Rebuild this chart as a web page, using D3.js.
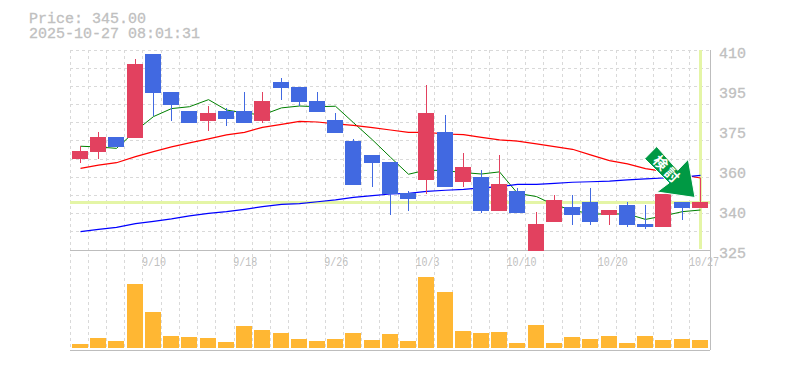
<!DOCTYPE html>
<html>
<head>
<meta charset="utf-8">
<script src="https://cdn.jsdelivr.net/npm/d3@7"></script>
<style>
  html, body { margin: 0; padding: 0; background: #fff; }
  svg { display: block; }
  text { font-family: "Liberation Mono", monospace; fill: #c0c0c0; }
</style>
</head>
<body>
<div id="chart"></div>
<script>
const priceLabel = "Price: 345.00";
const timeLabel = "2025-10-27 08:01:31";
const currentPrice = 345;
const arrowText = "検討";

const opens = [363.7, 366.6, 373.0, 372.6, 408.3, 392.2, 384.1, 379.8, 384.1, 384.1, 379.8, 396.4, 394.3, 388.3, 380.3, 371.3, 365.4, 362.4, 349.2, 354.8, 375.2, 353.9, 356.0, 341.6, 350.1, 324.6, 336.9, 343.3, 345.4, 339.9, 344.1, 336.1, 334.8, 345.4, 342.9];
const highs = [369.1, 375.2, 373.0, 406.2, 408.3, 392.2, 384.1, 386.2, 385.4, 392.2, 392.2, 398.1, 394.3, 392.2, 383.2, 372.2, 365.4, 362.4, 350.1, 395.1, 382.4, 366.2, 359.0, 365.4, 351.4, 341.2, 348.4, 348.4, 351.4, 342.0, 345.4, 344.1, 348.8, 345.4, 355.6];
const lows = [362.0, 363.7, 368.8, 372.6, 382.0, 379.8, 379.0, 375.6, 377.7, 379.0, 379.0, 388.8, 386.2, 383.7, 374.7, 352.6, 351.8, 339.9, 341.6, 348.8, 351.8, 351.8, 340.7, 341.6, 340.7, 324.6, 336.9, 335.6, 335.6, 335.6, 334.8, 333.9, 334.8, 337.8, 342.9];
const closes = [367.1, 373.0, 368.8, 404.0, 391.7, 386.6, 379.0, 383.2, 380.7, 379.0, 388.3, 393.9, 387.9, 383.7, 374.7, 352.6, 362.0, 348.8, 346.7, 383.2, 351.8, 360.3, 341.6, 353.1, 340.7, 336.1, 346.3, 339.9, 336.9, 342.0, 335.6, 334.8, 348.8, 342.9, 345.4];

const maShort = [369.1, 368.8, 368.2, 375.6, 381.7, 385.1, 385.9, 388.9, 384.5, 383.2, 382.4, 385.4, 386.2, 385.9, 386.1, 379.1, 371.8, 364.4, 357.2, 359.0, 358.7, 357.9, 357.3, 358.2, 349.1, 347.7, 344.1, 342.0, 340.3, 340.3, 340.3, 338.0, 339.5, 341.3, 342.0];
const maMid = [359.7, 361.1, 362.1, 364.7, 366.8, 368.8, 370.5, 372.2, 373.9, 375.0, 377.1, 378.4, 379.7, 379.4, 378.6, 378.0, 377.0, 376.0, 375.0, 375.0, 374.3, 374.0, 372.9, 371.8, 371.3, 370.1, 368.9, 367.8, 365.4, 363.0, 361.6, 359.6, 358.4, 356.9, 355.6];
const maLong = [332.8, 333.8, 334.6, 336.2, 337.2, 338.2, 339.5, 340.6, 341.3, 342.3, 343.4, 344.4, 344.7, 345.5, 346.3, 347.4, 348.1, 348.8, 349.1, 349.9, 350.4, 350.8, 351.4, 351.9, 352.9, 352.9, 353.3, 353.8, 354.0, 354.3, 354.8, 355.2, 355.6, 356.0, 356.7];

const volumes = [400, 1000, 700, 6400, 3600, 1200, 1100, 1000, 600, 2200, 1800, 1500, 900, 700, 900, 1500, 800, 1400, 700, 7100, 5600, 1700, 1500, 1600, 500, 2300, 500, 1100, 900, 1200, 500, 1200, 800, 900, 800];

const priceTicks = [410, 393, 376, 359, 342, 325];
const priceTickLabels = ["410", "395", "375", "360", "340", "325"];
const dateTicks = [4, 9, 14, 19, 24, 29, 34];
const dateTickLabels = ["9/10", "9/18", "9/26", "10/3", "10/10", "10/20", "10/27"];

const width = 785, height = 370;
const plotLeft = 70, plotRight = 710, plotTop = 50, plotMid = 250, plotBottom = 350;
const candleWidth = 16;

const svg = d3.select("#chart").append("svg")
  .attr("width", width)
  .attr("height", height);

const x = d3.scaleBand().domain(d3.range(opens.length)).range([71, 709]);
const y = d3.scaleLinear().domain([410, 325]).range([plotTop, plotMid]);
const yVol = d3.scaleLinear().domain([0, 10000]).range([348, 248]);

const barX = (i) => Math.round(x(i) + 1);
const midX = (i) => barX(i) + candleWidth / 2 + 0.5;

svg.append("defs").append("clipPath").attr("id", "plot")
  .append("rect")
  .attr("x", plotLeft).attr("y", plotTop)
  .attr("width", plotRight - plotLeft).attr("height", plotMid - plotTop + 1);

// dashed grid
const grid = svg.append("g")
  .attr("stroke", "#d9d9d9")
  .attr("stroke-dasharray", "3,3")
  .attr("shape-rendering", "crispEdges");

grid.selectAll("line.h")
  .data(d3.range(11))
  .join("line")
  .attr("class", "h")
  .attr("x1", plotLeft).attr("x2", plotRight)
  .attr("y1", (k) => Math.floor(plotTop + (k * (plotMid - plotTop)) / 11) + 0.5)
  .attr("y2", (k) => Math.floor(plotTop + (k * (plotMid - plotTop)) / 11) + 0.5);

grid.selectAll("line.v")
  .data(d3.range(opens.length))
  .join("line")
  .attr("class", "v")
  .attr("x1", (i) => Math.floor(x(i) - 1) + 0.5)
  .attr("x2", (i) => Math.floor(x(i) - 1) + 0.5)
  .attr("y1", plotTop).attr("y2", plotBottom);

// current price and latest bar markers
svg.append("line")
  .attr("x1", plotLeft).attr("x2", plotRight)
  .attr("y1", y(currentPrice)).attr("y2", y(currentPrice))
  .attr("stroke", "#e4f5a6").attr("stroke-width", 3)
  .attr("shape-rendering", "crispEdges");
svg.append("line")
  .attr("x1", midX(opens.length - 1)).attr("x2", midX(opens.length - 1))
  .attr("y1", plotTop).attr("y2", plotMid - 1)
  .attr("stroke", "#e4f5a6").attr("stroke-width", 3)
  .attr("shape-rendering", "crispEdges");

// frame
const frame = svg.append("g").attr("stroke", "#bdbdbd").attr("shape-rendering", "crispEdges");
frame.append("line").attr("x1", plotLeft).attr("x2", plotRight).attr("y1", plotMid + 0.5).attr("y2", plotMid + 0.5);
frame.append("line").attr("x1", plotLeft).attr("x2", plotRight).attr("y1", plotBottom + 0.5).attr("y2", plotBottom + 0.5);
frame.append("line").attr("x1", plotRight + 0.5).attr("x2", plotRight + 0.5).attr("y1", plotTop).attr("y2", plotBottom);

// moving averages
const line = d3.line().x((d, i) => midX(i)).y((d) => y(d));
[[maShort, "#008000", 1], [maMid, "#ff0000", 1.2], [maLong, "#0000ff", 1.2]].forEach(([values, color, w]) => {
  svg.append("path")
    .attr("d", line(values))
    .attr("fill", "none")
    .attr("stroke", color)
    .attr("stroke-width", w);
});

// candles
const upColor = "#e2415f", downColor = "#4169e1";
const candles = svg.append("g")
  .attr("clip-path", "url(#plot)")
  .attr("shape-rendering", "crispEdges")
  .selectAll("g")
  .data(d3.range(opens.length))
  .join("g");

candles.append("line")
  .attr("x1", midX).attr("x2", midX)
  .attr("y1", (i) => y(highs[i]))
  .attr("y2", (i) => y(lows[i]))
  .attr("stroke", (i) => (closes[i] >= opens[i] ? upColor : downColor));

candles.append("rect")
  .attr("x", barX)
  .attr("width", candleWidth)
  .attr("y", (i) => y(Math.max(opens[i], closes[i])))
  .attr("height", (i) => Math.abs(y(opens[i]) - y(closes[i])))
  .attr("fill", (i) => (closes[i] >= opens[i] ? upColor : downColor));

// volume
svg.append("g")
  .attr("shape-rendering", "crispEdges")
  .selectAll("rect")
  .data(volumes)
  .join("rect")
  .attr("x", (d, i) => barX(i))
  .attr("width", candleWidth)
  .attr("y", (d) => yVol(d))
  .attr("height", (d) => yVol(0) - yVol(d))
  .attr("fill", "#ffb733");

// axes
const yAxis = d3.axisRight(y)
  .tickValues(priceTicks)
  .tickSize(0)
  .tickPadding(0)
  .tickFormat((d, i) => priceTickLabels[i]);
const yG = svg.append("g").attr("transform", `translate(719,0)`).call(yAxis);
yG.select(".domain").remove();
yG.selectAll("text").attr("font-size", 15).attr("dy", "0.68em").attr("y", -3)
  .attr("stroke", "#c0c0c0").attr("stroke-width", 0.3)
  .style("font-family", '"Liberation Mono", monospace');

const xAxis = d3.axisBottom(x)
  .tickValues(dateTicks)
  .tickSize(0)
  .tickPadding(0)
  .tickFormat((d, i) => dateTickLabels[i]);
const xG = svg.append("g").attr("transform", `translate(0,257)`).call(xAxis);
xG.select(".domain").remove();
// date labels are narrow and tall in the original, squeeze them to 6px a char
xG.selectAll("text")
  .attr("font-size", 13)
  .attr("text-anchor", "start")
  .attr("dx", -11 / 0.77)
  .attr("transform", "scale(0.77,1)")
  .style("font-family", '"Liberation Mono", monospace');

// signal arrow
svg.append("path")
  .attr("d", "M656.7,146.5 L644.7,158.7 L669,183 L657,192 L695,197.5 L688.3,159.3 L677.7,170.3 Z")
  .attr("fill", "#009944")
  .attr("stroke", "#fff")
  .attr("stroke-width", 1);

arrowText.split("").forEach((ch, i) => {
  svg.append("text")
    .attr("transform", `translate(${660.7 + i * 11.6},${162.7 + i * 12.3}) rotate(45)`)
    .attr("text-anchor", "middle")
    .attr("dy", "0.38em")
    .attr("font-size", 14)
    .attr("font-weight", "bold")
    .style("font-family", '"Noto Sans CJK JP", sans-serif')
    .style("fill", "#fff")
    .text(ch);
});

// title
svg.append("text").attr("x", 29).attr("y", 23).attr("font-size", 15)
  .attr("stroke", "#c0c0c0").attr("stroke-width", 0.3).text(priceLabel);
svg.append("text").attr("x", 29).attr("y", 38).attr("font-size", 15)
  .attr("stroke", "#c0c0c0").attr("stroke-width", 0.3).text(timeLabel);
</script>
</body>
</html>
